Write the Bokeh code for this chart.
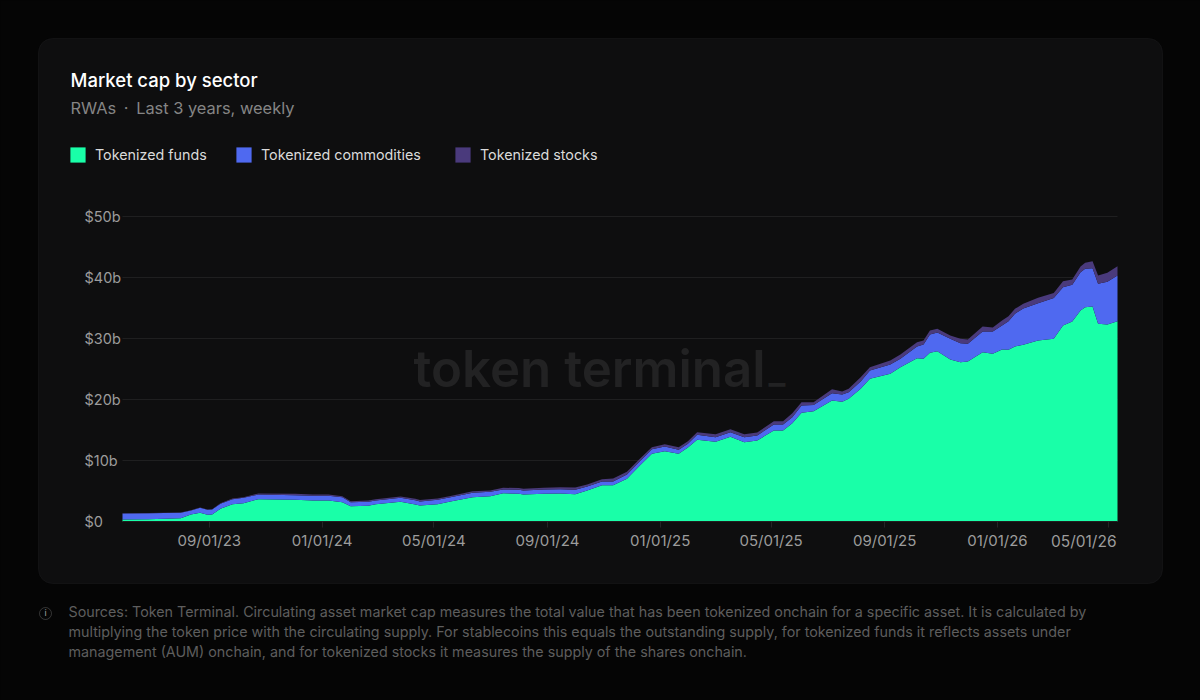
from datetime import datetime, timedelta
from bokeh.core.properties import value
from bokeh.plotting import figure
from bokeh.models import (ColumnDataSource, Range1d, FixedTicker, Label, BoxAnnotation,
                          Legend, LegendItem)
from bokeh.embed import file_html
from bokeh.resources import INLINE

title = "Market cap by sector"
subtitle = "RWAs\u00a0\u2009·\u2009\u00a0Last 3 years, weekly"
watermark = "token terminal"
watermark_tail = "_"
footnote = [
    "Sources: Token Terminal. Circulating asset market cap measures the total value that has been tokenized onchain for a specific asset. It is calculated by",
    "multiplying the token price with the circulating supply. For stablecoins this equals the outstanding supply, for tokenized funds it reflects assets under",
    "management (AUM) onchain, and for tokenized stocks it measures the supply of the shares onchain.",
]
series_names = ["Tokenized funds", "Tokenized commodities", "Tokenized stocks"]
series_colors = ["#19FFA8", "#4F69F0", "#4A3A7C"]

start_date = datetime(2023, 5, 30)
days = [0, 28, 63, 74, 84, 92, 97, 106, 119, 131, 147, 187, 206, 223, 238, 247, 266, 274, 301, 317,
        322, 341, 355, 379, 398, 412, 429, 434, 456, 474, 490, 503, 519, 531, 546, 560, 573, 587, 602, 612,
        622, 642, 658, 673, 687, 705, 715, 725, 735, 748, 768, 779, 786, 799, 809, 831, 842, 860, 867, 874,
        882, 896, 907, 915, 931, 942, 952, 959, 966, 975, 991, 1008, 1018, 1028, 1037, 1042, 1050, 1056, 1066, 1077]
funds = [0.33, 0.38, 0.54, 1.15, 1.43, 1.10, 1.15, 2.08, 2.84, 3.0, 3.66, 3.56, 3.44, 3.44, 3.16, 2.51, 2.57, 2.84, 3.23, 2.79,
         2.62, 2.84, 3.28, 3.98, 4.15, 4.64, 4.54, 4.43, 4.54, 4.59, 4.48, 5.08, 5.95, 5.93, 7.0, 9.18, 11.1, 11.52, 11.1, 12.13,
         13.39, 13.07, 13.89, 13.0, 13.28, 14.92, 14.92, 16.11, 17.82, 18.08, 19.84, 19.62, 20.11, 21.75, 23.39, 24.21, 25.3, 26.77, 26.67, 27.66,
         27.92, 26.56, 26.11, 26.23, 27.75, 27.49, 28.2, 28.15, 28.69, 28.97, 29.67, 29.95, 32.13, 32.79, 34.59, 35.13, 35.25, 32.41, 32.3, 32.84]
commodities = [0.98, 0.98, 0.89, 0.66, 0.82, 0.82, 0.82, 0.82, 0.82, 0.89, 0.77, 0.75, 0.77, 0.77, 0.82, 0.66, 0.66, 0.61, 0.66, 0.7,
               0.66, 0.72, 0.7, 0.72, 0.72, 0.61, 0.66, 0.66, 0.7, 0.7, 0.72, 0.66, 0.61, 0.62, 0.7, 0.7, 0.75, 0.77, 0.66, 0.61,
               0.82, 0.75, 0.75, 0.82, 0.82, 0.98, 0.98, 0.98, 1.2, 1.0, 1.2, 1.2, 1.08, 1.2, 1.36, 1.52, 1.38, 1.92, 2.34, 3.0,
               3.07, 3.39, 3.11, 2.9, 3.39, 3.66, 3.93, 4.69, 5.36, 5.96, 6.11, 6.7, 6.28, 6.02, 6.28, 6.3, 6.28, 6.56, 7.0, 7.5]
stocks = [0.05, 0.05, 0.05, 0.05, 0.05, 0.05, 0.05, 0.1, 0.12, 0.1, 0.16, 0.23, 0.23, 0.23, 0.16, 0.16, 0.2, 0.2, 0.2, 0.23,
          0.23, 0.23, 0.2, 0.26, 0.23, 0.28, 0.28, 0.28, 0.28, 0.33, 0.38, 0.33, 0.38, 0.5, 0.44, 0.39, 0.33, 0.38, 0.43, 0.43,
          0.43, 0.49, 0.49, 0.49, 0.49, 0.54, 0.54, 0.66, 0.54, 0.46, 0.66, 0.49, 0.56, 0.7, 0.54, 0.66, 0.7, 0.7, 0.66, 0.66,
          0.61, 0.54, 0.72, 0.7, 0.82, 0.66, 0.82, 0.82, 0.82, 0.77, 0.89, 0.82, 0.98, 0.87, 0.93, 0.98, 1.15, 1.36, 1.48, 1.52]

y_ticks = [0, 10, 20, 30, 40, 50]
y_labels = ["$0", "$10b", "$20b", "$30b", "$40b", "$50b"]
x_tick_dates = [datetime(2023, 9, 1), datetime(2024, 1, 1), datetime(2024, 5, 1), datetime(2024, 9, 1),
                datetime(2025, 1, 1), datetime(2025, 5, 1), datetime(2025, 9, 1), datetime(2026, 1, 1), datetime(2026, 5, 1)]
x_labels = ["09/01/23", "01/01/24", "05/01/24", "09/01/24", "01/01/25", "05/01/25", "09/01/25", "01/01/26", "05/01/26"]

PAGE = "#050505"
FONT = "Inter"
W, H = 1200, 700
L, R, T, B = 122, 1117, 216, 521


def ms(d):
    return (d - datetime(1970, 1, 1)).total_seconds() * 1000


def sx(px):
    return px


def sy(py):
    return H - py


dates = [start_date + timedelta(days=d) for d in days]
source = ColumnDataSource(dict(x=dates, funds=funds, commodities=commodities, stocks=stocks))

# the plotting frame fills the page so that the card and its texts can lie around the chart area
x0, x1 = ms(dates[0]), ms(dates[-1])
per_px = (x1 - x0) / (R - L)
y_per_px = y_ticks[-1] / (B - T)
p = figure(width=W, height=H, x_axis_type="datetime", output_backend="svg", toolbar_location=None,
           x_range=Range1d(x0 - L * per_px, x1 + (W - R) * per_px),
           y_range=Range1d(-(H - B) * y_per_px, B * y_per_px),
           min_border=0, background_fill_color=PAGE, border_fill_color=PAGE, outline_line_color=None)

p.add_layout(BoxAnnotation(left=sx(38), right=sx(1162), top=sy(38), bottom=sy(583),
                           left_units="screen", right_units="screen", top_units="screen", bottom_units="screen",
                           fill_color="#0E0E0F", fill_alpha=1, line_color="#27272A", line_width=1,
                           border_radius=14, level="image"))

p.add_layout(Label(x=sx(413), y=sy(368), x_units="screen", y_units="screen", text=watermark,
                   text_font="Inter SemiBold", text_font_size="51px", text_color="#222223",
                   text_baseline="alphabetic", level="underlay"))
p.add_layout(Label(x=sx(768), y=sy(369), x_units="screen", y_units="screen", text=watermark_tail,
                   text_font="Inter SemiBold", text_font_size="36px", text_color="#222223",
                   text_baseline="alphabetic", level="underlay"))

p.xgrid.visible = False
p.ygrid.visible = False
p.yaxis.visible = False

grid_source = ColumnDataSource(dict(y=y_ticks, label=y_labels,
                                    x0=[dates[0]] * len(y_ticks), x1=[dates[-1]] * len(y_ticks)))
p.segment(x0="x0", y0="y", x1="x1", y1="y", source=grid_source, line_color="#1F1F20", line_width=1)
p.text(x="x0", y="y", text="label", source=grid_source, x_offset=-38, text_align="left", text_baseline="middle",
       text_font=value(FONT), text_font_size="14.5px", text_color="#9C9C9C")

stack = p.varea_stack(["funds", "commodities", "stocks"], x="x", color=series_colors, source=source)

legend_x = [70, 236, 455]
for name, r, lx in zip(series_names, stack, legend_x):
    p.add_layout(Legend(items=[LegendItem(label=name, renderers=[r])],
                        orientation="horizontal", location=(sx(lx) - 2, sy(163.5)), margin=0, padding=0,
                        label_standoff=8, glyph_width=19, glyph_height=19, label_height=15,
                        background_fill_alpha=0, border_line_color=None,
                        label_text_font=FONT, label_text_font_size="14.3px", label_text_color="#DADADA"), "center")

x_ms = [ms(d) for d in x_tick_dates]
p.xaxis.fixed_location = 0
p.xaxis.bounds = (x0, x1)
p.xaxis.ticker = FixedTicker(ticks=x_ms)
p.xaxis.major_label_overrides = {m: (l if i < len(x_ms) - 1 else "") for i, (m, l) in enumerate(zip(x_ms, x_labels))}
p.xaxis.axis_line_color = "#1F1F20"
p.xaxis.major_tick_line_color = "#242425"
p.xaxis.major_tick_in = 0
p.xaxis.major_tick_out = 6
p.xaxis.minor_tick_line_color = None
p.xaxis.major_label_text_font = FONT
p.xaxis.major_label_text_font_size = "15px"
p.xaxis.major_label_text_color = "#9C9C9C"
p.xaxis.major_label_standoff = 3


def text(px, py, s, size, color, font=FONT, align="left"):
    p.add_layout(Label(x=sx(px), y=sy(py), x_units="screen", y_units="screen", text=s, text_font=font,
                       text_font_size=size, text_color=color,
                       text_align=align, text_baseline="alphabetic"))


text(1116, 541, x_labels[-1], "15.5px", "#9C9C9C", align="right")
text(70, 79, title, "18.5px", "#FFFFFF", font="Inter Medium")
text(70, 107, subtitle, "16.4px", "#858585")
for line, y in zip(footnote, [611, 631, 651]):
    text(68, y, line, "14.3px", "#5E5E5E")

p.add_layout(BoxAnnotation(left=sx(39), right=sx(51), top=sy(607), bottom=sy(619),
                           left_units="screen", right_units="screen", top_units="screen", bottom_units="screen",
                           fill_alpha=0, line_color="#A0A0A0", line_width=1, border_radius=6))
text(45, 612, "i", "9px", "#A0A0A0", align="center")

html = file_html(p, INLINE)
html = html.replace("<head>", f"<head><style>html,body{{margin:0;overflow:hidden;background:{PAGE};}}</style>", 1)
open("out.html", "w").write(html)
